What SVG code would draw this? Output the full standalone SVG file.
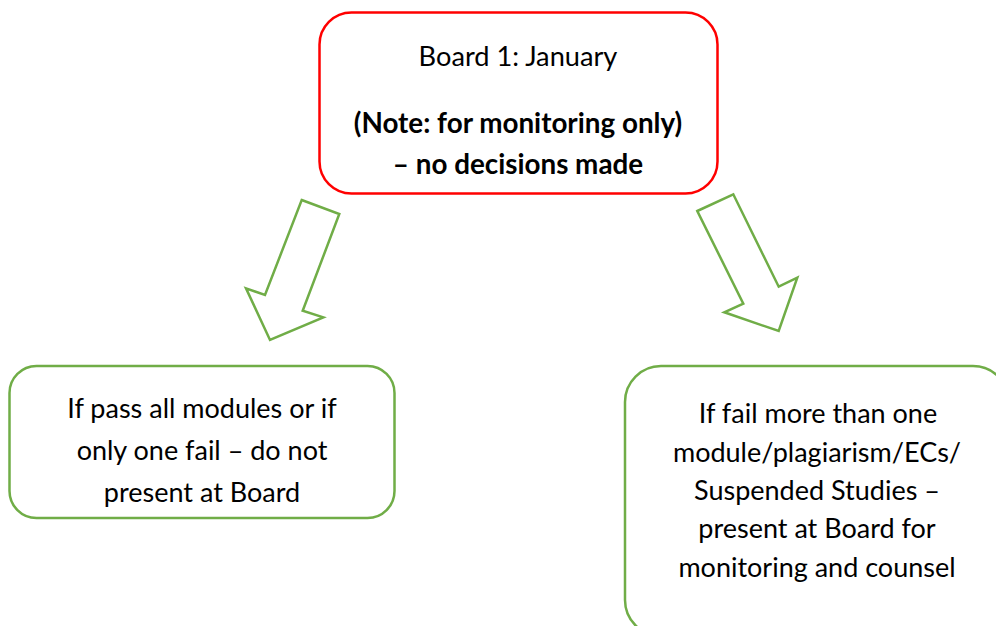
<svg xmlns="http://www.w3.org/2000/svg" width="996" height="626" viewBox="0 0 996 626">
  <style>
    .bg { fill: #ffffff; }
    .box-red { fill: #ffffff; stroke: #ff0000; stroke-width: 2.5; }
    .box-green { fill: #ffffff; stroke: #70ad47; stroke-width: 2.5; }
    .arrow { fill: #ffffff; stroke: #70ad47; stroke-width: 2.5; stroke-linejoin: miter; }
    .t { font-family: Lato, "Liberation Sans", sans-serif; fill: #000000; text-anchor: middle; }
    .reg { font-size: 27px; font-weight: 400; }
    .top { font-size: 27.2px; font-weight: 400; }
    .bold { font-size: 27.8px; font-weight: 700; }
  </style>
  <rect class="bg" x="0" y="0" width="996" height="626"/>

  <g id="node-board1">
    <rect class="box-red" x="319.5" y="12.5" width="398" height="181" rx="32" ry="32"/>
    <text class="t top" x="518" y="66">Board 1: January</text>
    <text class="t bold" x="518" y="133">(Note: for monitoring only)</text>
    <text class="t bold" x="518" y="174">– no decisions made</text>
  </g>

  <g id="node-pass">
    <rect class="box-green" x="9.5" y="366" width="385" height="152" rx="27" ry="27"/>
    <text class="t reg" x="202" y="418">If pass all modules or if</text>
    <text class="t reg" x="202" y="460">only one fail – do not</text>
    <text class="t reg" x="202" y="501.5">present at Board</text>
  </g>

  <g id="node-fail">
    <rect class="box-green" x="625" y="366" width="384" height="270" rx="36" ry="36"/>
    <text class="t reg" x="818" y="423.3">If fail more than one</text>
    <text class="t reg" x="817" y="461.7">module/plagiarism/ECs/</text>
    <text class="t reg" x="817" y="500">Suspended Studies –</text>
    <text class="t reg" x="817" y="538.3">present at Board for</text>
    <text class="t reg" x="817" y="576.7">monitoring and counsel</text>
  </g>

  <g id="connectors">
    <polygon class="arrow" points="301.7,200 339.3,214 302.7,310.7 323.3,317.3 270,340 246,288.3 265,295"/>
    <polygon class="arrow" points="697.3,211 733.3,194.3 778.7,286.7 797.3,277.7 778.7,331 724.3,312.3 743.3,303.7"/>
  </g>
</svg>
